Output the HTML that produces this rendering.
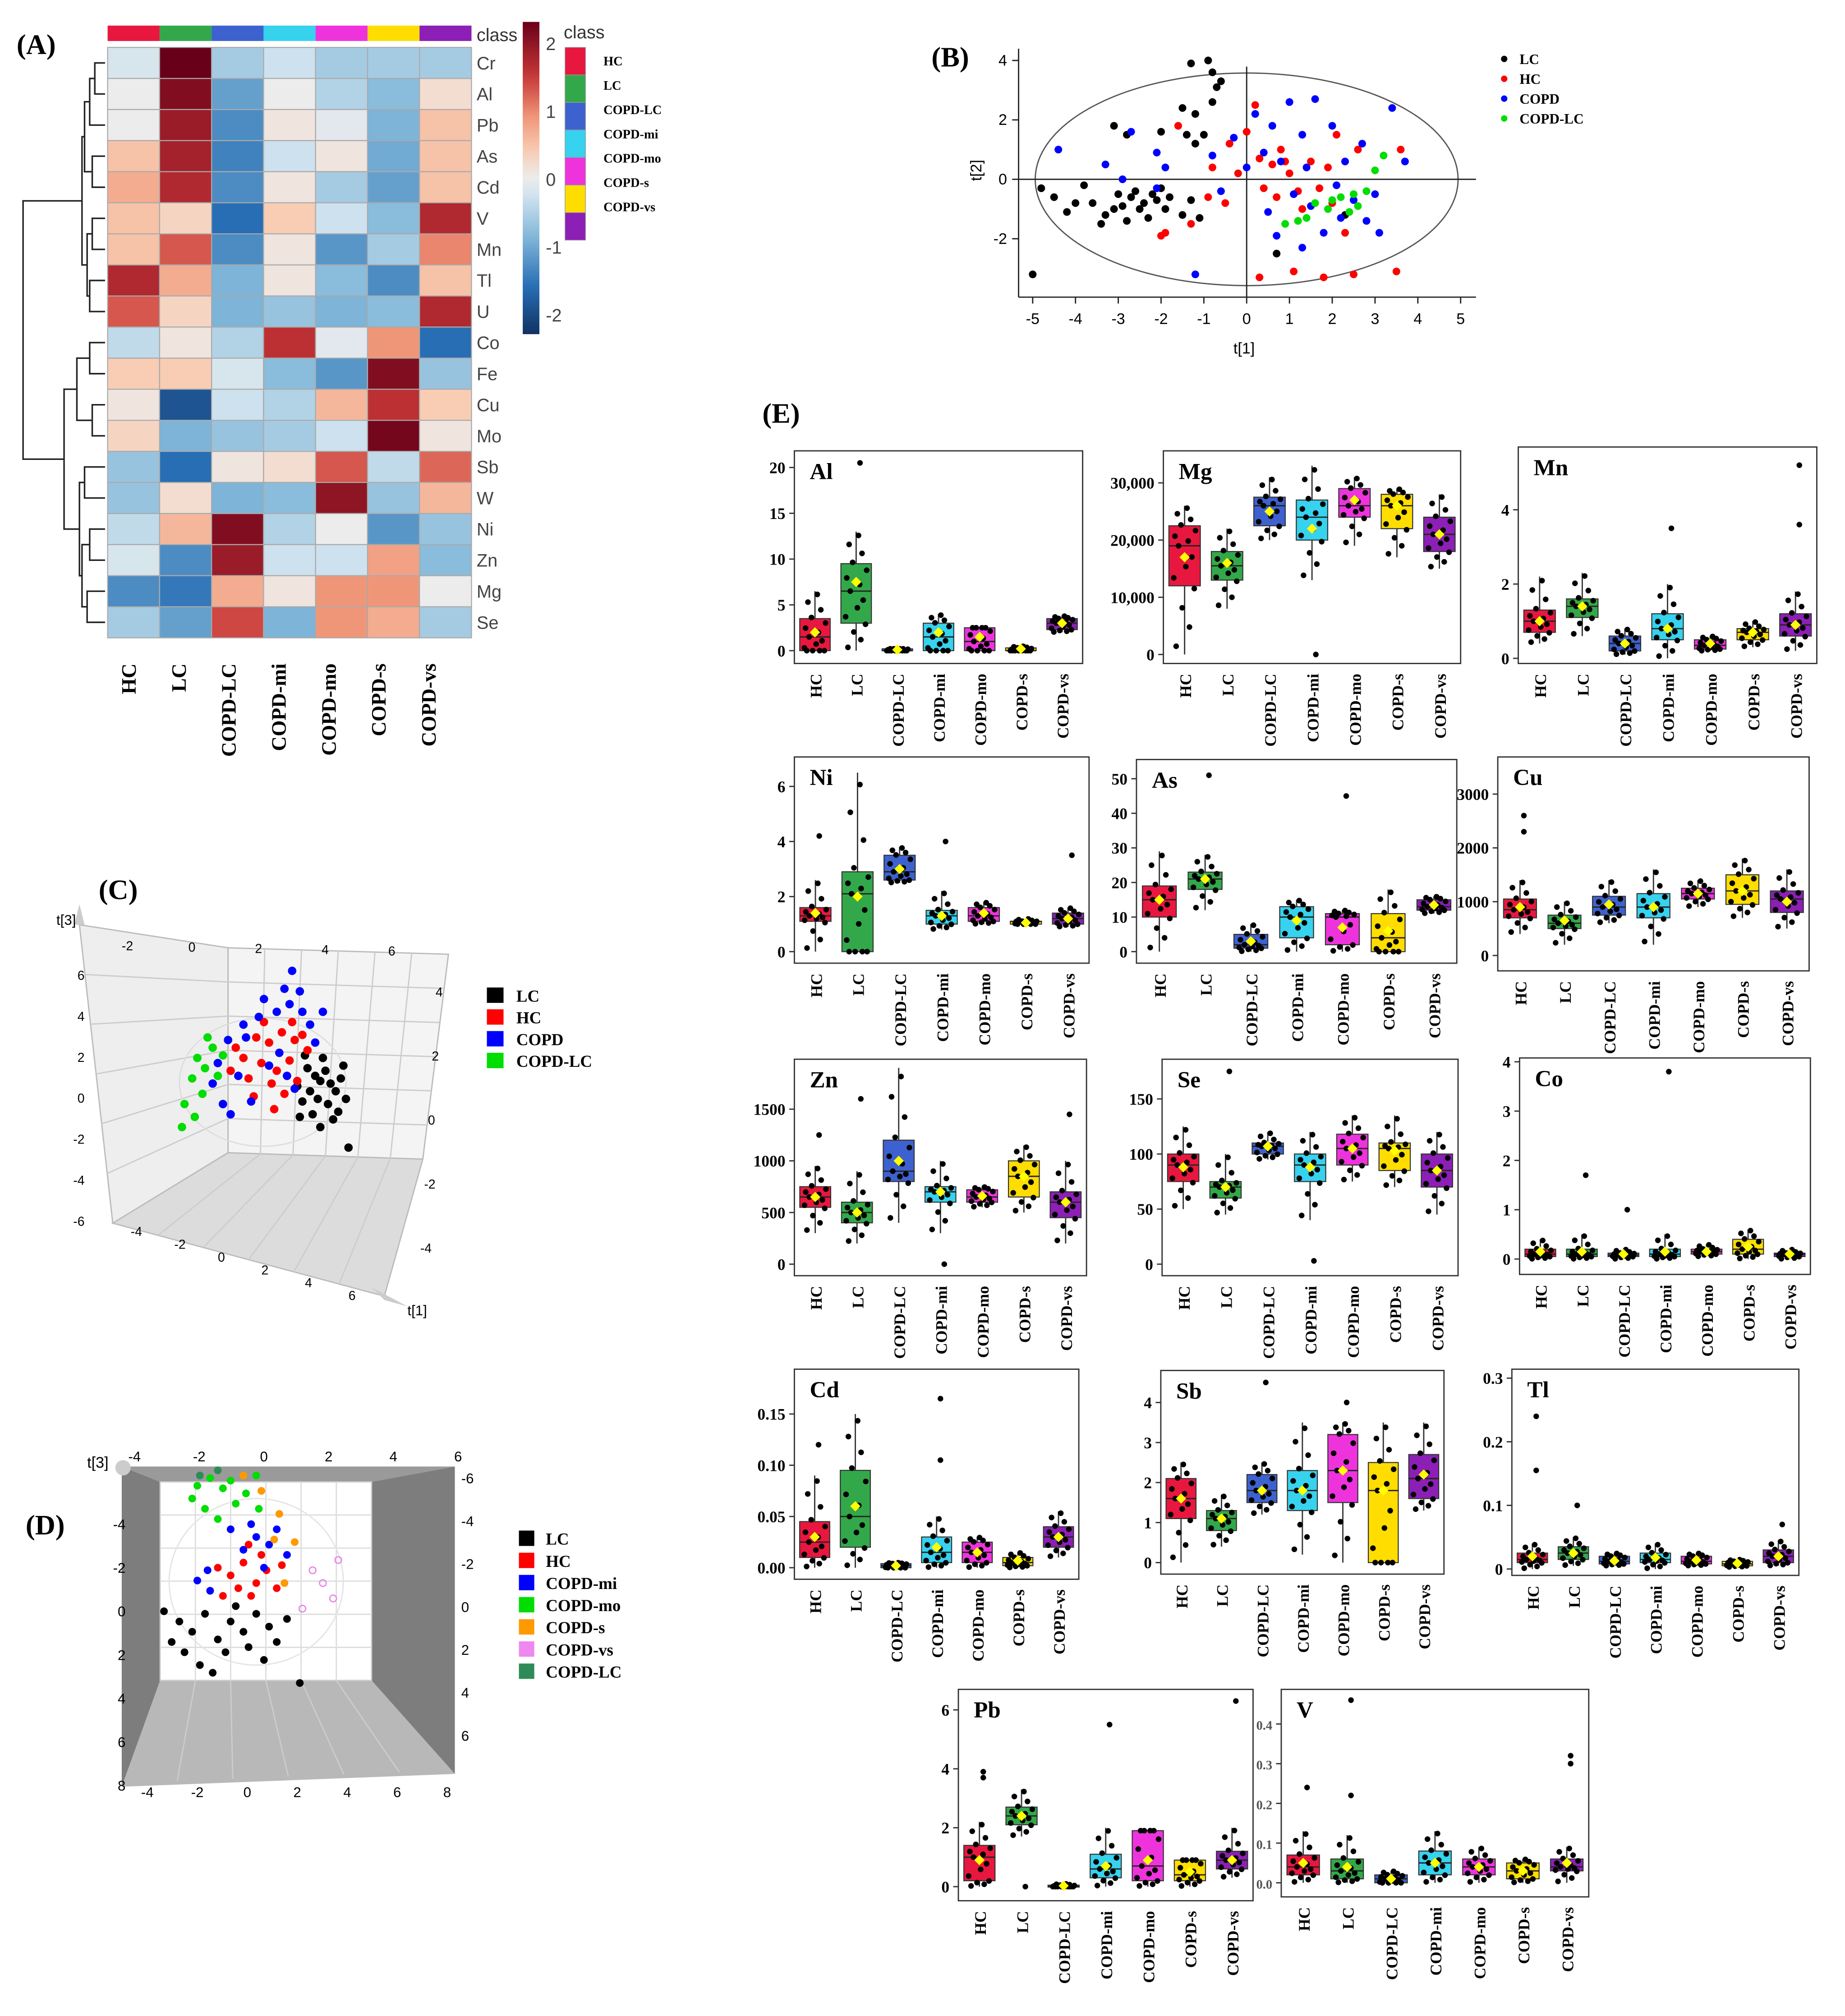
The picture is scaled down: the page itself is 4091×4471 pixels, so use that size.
<!DOCTYPE html>
<html><head><meta charset="utf-8"><title>Metals figure</title>
<style>
html,body{margin:0;padding:0;background:#fff;}
svg{display:block;}
</style></head>
<body>
<svg id="fig" xmlns="http://www.w3.org/2000/svg" width="4091" height="4471" viewBox="0 0 1440 1574" preserveAspectRatio="none">
<rect x="0" y="0" width="1440" height="1574" fill="#fff"/>
</svg>
<script>
const NS='http://www.w3.org/2000/svg';
const svg=document.getElementById('fig');
function mk(tag,attrs,parent,name){
  const e=document.createElementNS(NS,tag);
  for(const k in attrs) e.setAttribute(k,attrs[k]);
  
  
  (parent||svg).appendChild(e);
  return e;
}
function txt(x,y,s,attrs,name,parent){
  const t=mk('text',Object.assign({x:x,y:y},attrs||{}),parent,name);
  t.textContent=s; return t;
}
const SERIF='"Liberation Serif", serif';
const SANS='"Liberation Sans", sans-serif';
const GROUPS=['HC','LC','COPD-LC','COPD-mi','COPD-mo','COPD-s','COPD-vs'];
const GCOL=['#e8173f','#33a84a','#3d62cf','#36d2ee','#ee33dd','#ffdd00','#8c1fb5'];

/* ================= (A) HEATMAP ================= */
const HM_ROWS=['Cr','Al','Pb','As','Cd','V','Mn','Tl','U','Co','Fe','Cu','Mo','Sb','W','Ni','Zn','Mg','Se'];
const HM_COLS=['HC','LC','COPD-LC','COPD-mi','COPD-mo','COPD-s','COPD-vs'];
const HM_VALUES=[
[-0.2,2.3,-0.6,-0.3,-0.6,-0.6,-0.6],
[0,2.1,-1.1,0,-0.5,-0.8,0.2],
[0,1.9,-1.3,0.1,-0.1,-0.9,0.5],
[0.5,1.8,-1.4,-0.3,0.1,-1,0.5],
[0.7,1.7,-1.3,0.1,-0.6,-1.1,0.5],
[0.5,0.3,-1.6,0.4,-0.3,-0.8,1.7],
[0.5,1.3,-1.3,0.1,-1.2,-0.6,1.0],
[1.7,0.7,-0.9,0.1,-0.8,-1.3,0.5],
[1.3,0.3,-0.9,-0.7,-0.9,-0.8,1.7],
[-0.4,0.1,-0.5,1.6,-0.1,0.9,-1.6],
[0.4,0.4,-0.2,-0.8,-1.2,2.1,-0.7],
[0.1,-1.9,-0.3,-0.5,0.6,1.6,0.4],
[0.3,-0.9,-0.7,-0.6,-0.3,2.2,0.1],
[-0.7,-1.6,0.1,0.2,1.3,-0.4,1.2],
[-0.7,0.2,-0.9,-0.8,2.0,-0.7,0.6],
[-0.4,0.6,2.1,-0.5,0,-1.2,-0.7],
[-0.2,-1.3,1.9,-0.3,-0.3,0.8,-0.8],
[-1.3,-1.5,0.7,0.1,0.9,0.9,0],
[-0.6,-1.1,1.4,-0.9,0.9,0.7,-0.6]];
const CB_TICKS=[2,1,0,-1,-2];

const STOPS=[[-2.3,[16,50,100]],[-1.6,[40,110,180]],[-0.9,[125,180,215]],[-0.3,[205,225,238]],[0,[236,236,236]],[0.4,[248,205,180]],[0.9,[240,150,120]],[1.5,[200,55,55]],[2.3,[105,0,25]]];
function hcol(v){
  if(v<=STOPS[0][0]) return 'rgb('+STOPS[0][1]+')';
  for(let i=1;i<STOPS.length;i++){
    if(v<=STOPS[i][0]){const a=STOPS[i-1],b=STOPS[i];const t=(v-a[0])/(b[0]-a[0]);
      return 'rgb('+a[1].map((c,k)=>Math.round(c+(b[1][k]-c)*t)).join(',')+')';}
  }
  return 'rgb('+STOPS[STOPS.length-1][1]+')';
}
(function(){
  const g=mk('g',{},svg,'heatmap-panel');
  txt(13,42,'(A)',{'font-family':SERIF,'font-weight':'bold','font-size':22},'panel-label-a',g);
  const x0=84,x1=368,y0=37,y1=498;
  const cw=(x1-x0)/HM_COLS.length, rh=(y1-y0)/HM_ROWS.length;
  HM_COLS.forEach((c,i)=>{
    mk('rect',{x:x0+i*cw,y:20,width:cw,height:12,fill:GCOL[i]},g,'class-bar-'+c);
  });
  txt(372,32,'class',{'font-family':SANS,'font-size':14,fill:'#333'},'class-bar-label',g);
  HM_VALUES.forEach((row,r)=>{
    row.forEach((v,c)=>{
      mk('rect',{x:x0+c*cw,y:y0+r*rh,width:cw,height:rh,fill:hcol(v),stroke:'#aaa','stroke-width':0.8},g,'heatmap-cell');
    });
    txt(372,y0+r*rh+rh/2+5,HM_ROWS[r],{'font-family':SANS,'font-size':14,fill:'#444'},'row-label-'+HM_ROWS[r],g);
  });
  HM_COLS.forEach((c,i)=>{
    const x=106+i*39;
    txt(x,518,c,{'font-family':SERIF,'font-weight':'bold','font-size':16,'text-anchor':'end',transform:'rotate(-90 '+x+' 518)'},'col-label-'+c,g);
  });
  // dendrogram
  const yc=i=>y0+rh*(i+0.5);
  const tree=[18,
    [64,[66,[70,[74,0,1],2],[72,3,4]],[68,[72,5,6],[70,7,8]]],
    [50,[60,[64,[70,9,10],[72,11,12]]],[62,[66,13,14],[64,[70,15,16],[68,17,18]]]]];
  tree[2]=[50,[60,[70,9,10],[72,11,12]],[62,[66,13,14],[64,[70,15,16],[68,17,18]]]];
  function dn(n){
    if(typeof n==='number') return {x:82,y:yc(n)};
    const a=dn(n[1]),b=dn(n[2]),x=n[0];
    mk('path',{d:'M'+a.x+' '+a.y+'H'+x+'V'+b.y+'H'+b.x,fill:'none',stroke:'#222','stroke-width':1.2},g,'dendrogram-branch');
    return {x:x,y:(a.y+b.y)/2};
  }
  dn(tree);
  // colorbar
  const cbY=v=>139-53*v;
  const grad=mk('linearGradient',{id:'cbg',x1:0,y1:0,x2:0,y2:1},mk('defs',{},g,'defs'),'colorbar-gradient');
  for(let k=0;k<=20;k++){const v=2.3-k*(4.6/20);
    mk('stop',{offset:(k/20),'stop-color':hcol(v)},grad,'gradient-stop');}
  mk('rect',{x:408,y:cbY(2.3),width:13,height:cbY(-2.3)-cbY(2.3),fill:'url(#cbg)'},g,'colorbar');
  CB_TICKS.forEach(v=>txt(426,cbY(v)+6,String(v),{'font-family':SANS,'font-size':14,fill:'#444'},'colorbar-tick',g));
  // class legend
  txt(440,30,'class',{'font-family':SANS,'font-size':14,fill:'#333'},'class-legend-title',g);
  GROUPS.forEach((c,i)=>{
    mk('rect',{x:441,y:37+i*21.5,width:16,height:21.5,fill:GCOL[i],stroke:'#999','stroke-width':0.5},g,'class-legend-swatch');
    txt(471,51+i*19,c,{'font-family':SERIF,'font-weight':'bold','font-size':10},'class-legend-label',g);
  });
})();

/* ================= (B) PCA SCATTER ================= */
const B_XTICKS=[-5,-4,-3,-2,-1,0,1,2,3,4,5];
const B_YTICKS=[4,2,0,-2];
const B_LC_X=[-5,-4.8,-4.5,-4.2,-4,-3.8,-3.6,-3.4,-3.3,-3.1,-3,-2.9,-2.8,-2.7,-2.6,-2.5,-2.4,-2.3,-2.2,-2.1,-2,-1.9,-1.8,-1.5,-1.3,-1.1,-1.5,-1.3,-0.9,-0.8,-0.7,-0.6,-1.2,-1,-1.2,-1.4,-2.8,-2,-3.1,-0.8,0.7,2.3];
const B_LC_Y=[-3.2,-0.3,-0.6,-1.1,-0.8,-0.2,-0.8,-1.5,-1.2,-1,-0.5,-0.9,-1.4,-0.6,-0.4,-1,-0.8,-1.3,-0.5,-0.7,-0.3,-1,-0.6,-1.2,-0.7,-1.3,2.4,3.9,4,3.6,3.1,3.3,2.2,1.5,1.2,1.5,1.5,1.6,1.8,2.6,-2.5,-1.2];
const B_HC_X=[-1.9,-2,-1.3,-0.9,-0.8,-0.5,-0.2,0,0.2,0.3,0.4,0.6,0.7,0.8,1,1.2,1.3,1.5,1.7,1.9,2,2.3,1.1,1.8,0.3,2.5,3.5,3.6,0.9,-0.4,2.6,2.1,-1.6];
const B_HC_Y=[-1.8,-1.9,-1.5,-0.6,0.4,-0.8,0.2,1.6,2.5,0.7,-0.3,0.5,-0.6,1,0.2,-0.4,-1,0.6,-0.3,0.4,-0.8,-1.8,-3.1,-3.3,-3.3,-3.2,-3.1,1,0.6,1.2,1,1.5,1.8];
const B_COPD_X=[-4.4,-3.3,-2.9,-2.7,-2.1,-1.9,-2.1,-1.2,-0.8,-0.6,-0.3,0,0.2,0.5,0.6,0.8,1,1.1,1.3,1.4,1.6,1.8,2,2.1,2.3,2.5,2.7,2.8,3,3.1,3.4,3.7,1.3,0.7,2.2,1.5,0.4];
const B_COPD_Y=[1,0.5,0,1.6,0.9,0.4,-0.3,-3.2,0.8,-0.4,1.4,0.4,2.2,-1.1,1.8,0.6,2.6,-0.5,1.5,0.4,2.7,-1.8,1.8,-0.2,0.6,-0.7,1.2,-1.4,-0.5,-1.8,2.4,0.6,-2.3,-1.9,-1.3,-0.9,0.9];
const B_COPDLC_X=[0.9,1.4,1.6,1.9,2.2,2.5,2.8,2.6,3,3.2,2.4,1.2,2];
const B_COPDLC_Y=[-1.5,-1.3,-0.8,-1,-0.6,-0.5,-0.4,-0.9,0.3,0.8,-1.1,-1.4,-0.7];
(function(){
  const g=mk('g',{},svg,'pca-scatter-panel');
  txt(727,52,'(B)',{'font-family':SERIF,'font-weight':'bold','font-size':22},'panel-label-b',g);
  const sx=v=>973+33.4*v, sy=v=>140-23.2*v;
  mk('ellipse',{cx:sx(0),cy:sy(0),rx:165,ry:83,fill:'none',stroke:'#555','stroke-width':1},g,'confidence-ellipse');
  mk('line',{x1:795,y1:sy(0),x2:1152,y2:sy(0),stroke:'#222','stroke-width':1},g,'zero-line-h');
  mk('line',{x1:sx(0),y1:52,x2:sx(0),y2:232,stroke:'#222','stroke-width':1},g,'zero-line-v');
  mk('line',{x1:795,y1:38,x2:795,y2:232,stroke:'#222','stroke-width':1},g,'y-axis');
  mk('line',{x1:795,y1:232,x2:1152,y2:232,stroke:'#222','stroke-width':1},g,'x-axis');
  B_XTICKS.forEach(v=>{mk('line',{x1:sx(v),y1:232,x2:sx(v),y2:237,stroke:'#222'},g,'x-tick');
    txt(sx(v),253,String(v),{'font-family':SANS,'font-size':12,'text-anchor':'middle'},'x-tick-label',g);});
  B_YTICKS.forEach(v=>{mk('line',{x1:790,y1:sy(v),x2:795,y2:sy(v),stroke:'#222'},g,'y-tick');
    txt(786,sy(v)+4,String(v),{'font-family':SANS,'font-size':12,'text-anchor':'end'},'y-tick-label',g);});
  txt(971,276,'t[1]',{'font-family':SANS,'font-size':12,'text-anchor':'middle'},'x-axis-title',g);
  txt(766,133,'t[2]',{'font-family':SANS,'font-size':12,'text-anchor':'middle',transform:'rotate(-90 766 133)'},'y-axis-title',g);
  const sets=[[B_LC_X,B_LC_Y,'#000','lc'],[B_HC_X,B_HC_Y,'#f00','hc'],[B_COPD_X,B_COPD_Y,'#00f','copd'],[B_COPDLC_X,B_COPDLC_Y,'#0d0','copd-lc']];
  sets.forEach(s=>s[0].forEach((x,i)=>mk('circle',{cx:sx(x),cy:sy(s[1][i]),r:3,fill:s[2]},g,'point-'+s[3])));
  const L=[['LC','#000'],['HC','#f00'],['COPD','#00f'],['COPD-LC','#0d0']];
  L.forEach((l,i)=>{mk('circle',{cx:1174,cy:46+i*15.5,r:2.5,fill:l[1]},g,'legend-marker');
    txt(1186,50+i*15.5,l[0],{'font-family':SERIF,'font-weight':'bold','font-size':11},'legend-entry',g);});
})();

/* ================= (C) 3D PCA ================= */
const C_LC_U=[1.5,1.8,2,2.2,2.4,1.6,1.9,2.3,1.3,2.6,2.8,1.1,2.1,2.5,1.7,3,2.7,1.4,2.9,1.2,3.1,2];
const C_LC_V=[0.8,0.5,0.3,0.7,0.2,-0.1,-0.4,-0.6,-0.5,-0.1,0.4,0.1,1.2,-1.2,-1,-0.4,-0.9,1.3,0.9,-1.1,-2.3,-1.5];
const C_HC_U=[-0.5,0,0.5,1,-1,-0.3,0.3,0.8,1.3,-0.8,0.1,0.6,-1.3,0.9,-0.2,1.5,-1.5,0.2,-0.6,1.1];
const C_HC_V=[2,1.8,2.2,1.9,1.2,1,0.7,1.1,2.1,0.4,0.2,-0.2,1.6,2.6,2.6,1.5,0.7,-0.8,-0.3,0.3];
const C_COPD_U=[-1,-0.4,0.3,0.8,1.3,1.6,-1.6,-1.2,-2,-0.7,0,0.7,1.2,0.9,0.6,-2.2,-1.8,1.8,-0.2,0.4,1,-0.9,-1.5,2.1];
const C_COPD_V=[2.5,2.8,3,3.3,3,2.5,1.9,0.5,1,-0.5,0.9,0.5,3.8,4.6,3.9,0.2,-0.6,1.8,3.5,1.4,0,2,-1,3];
const C_COPDLC_U=[-2.8,-2.5,-3,-2.6,-3.3,-2.2,-2.9,-3.4,-2,-1.8,-2.4];
const C_COPDLC_V=[1.2,0.8,0.4,-0.2,-0.6,1.6,-1.1,-1.5,0.5,1.3,2];
(function(){
  const g=mk('g',{},svg,'pca-3d-panel-c');
  txt(77,702,'(C)',{'font-family':SERIF,'font-weight':'bold','font-size':22},'panel-label-c',g);
  mk('polygon',{points:'62,722 178,740 178,900 88,955',fill:'#eeeeee',stroke:'#bbb'},g,'left-wall');
  mk('polygon',{points:'178,740 350,745 330,905 178,900',fill:'#f4f4f4',stroke:'#bbb'},g,'back-wall');
  mk('polygon',{points:'88,955 178,900 330,905 300,1012',fill:'#dcdcdc',stroke:'#bbb'},g,'floor');
  for(let k=1;k<6;k++){
    const t=k/6;
    mk('line',{x1:178+172*t,y1:740+5*t,x2:178+152*t,y2:900+5*t,stroke:'#ccc'},g,'grid-line');
    mk('line',{x1:178,y1:740+160*t,x2:350-20*t,y2:745+160*t,stroke:'#ccc'},g,'grid-line');
    mk('line',{x1:62+26*t,y1:722+233*t,x2:178,y2:740+160*t,stroke:'#ccc'},g,'grid-line');
    mk('line',{x1:88+212*t,y1:955+57*t,x2:178+152*t,y2:900+5*t,stroke:'#ccc'},g,'grid-line');
  }
  mk('polygon',{points:'58,722 66,722 62,706',fill:'#ccc'},g,'axis-arrow');
  mk('polygon',{points:'290,1005 318,1020 300,1015',fill:'#ccc'},g,'axis-arrow');
  ['-2','0','2','4','6'].forEach((s,i)=>txt(95+52*i,742+i,s,{'font-family':SANS,'font-size':10},'top-tick-label',g));
  ['6','4','2','0','-2','-4','-6'].forEach((s,i)=>txt(66,765+32*i,s,{'font-family':SANS,'font-size':10,'text-anchor':'end'},'left-tick-label',g));
  ['-4','-2','0','2','4','6'].forEach((s,i)=>txt(102+34*i,965+10*i,s,{'font-family':SANS,'font-size':10},'bottom-tick-label',g));
  ['4','2','0','-2','-4'].forEach((s,i)=>txt(340-3*i,778+50*i,s,{'font-family':SANS,'font-size':10},'right-tick-label',g));
  txt(44,722,'t[3]',{'font-family':SANS,'font-size':11},'z-axis-title',g);
  txt(318,1027,'t[1]',{'font-family':SANS,'font-size':11},'x-axis-title',g);
  mk('ellipse',{cx:205,cy:845,rx:65,ry:50,fill:'none',stroke:'#ddd'},g,'confidence-ellipsoid');
  const su=u=>210+20*u, sv=v=>850-20*v;
  const sets=[[C_LC_U,C_LC_V,'#000','lc'],[C_HC_U,C_HC_V,'#f00','hc'],[C_COPD_U,C_COPD_V,'#00f','copd'],[C_COPDLC_U,C_COPDLC_V,'#0d0','copd-lc']];
  sets.forEach(s=>s[0].forEach((u,i)=>mk('circle',{cx:su(u),cy:sv(s[1][i]),r:3.3,fill:s[2]},g,'point-'+s[3])));
  const L=[['LC','#000'],['HC','#f00'],['COPD','#00f'],['COPD-LC','#0d0']];
  L.forEach((l,i)=>{mk('rect',{x:380,y:771+i*17,width:13,height:12,fill:l[1]},g,'legend-swatch');
    txt(403,782+i*17,l[0],{'font-family':SERIF,'font-weight':'bold','font-size':13},'legend-entry',g);});
})();

/* ================= (D) 3D PCA ================= */
const D_LC_U=[-3,-2.5,-2,-1.5,-1,-0.5,0,0.5,-2.8,-2.2,-1.2,-0.3,0.8,1.2,-3.3,-1.7,1.7,-0.8,0.3,-3.6];
const D_LC_V=[-1.8,-2.2,-1.5,-2.5,-1.8,-2.2,-1.5,-2,-3,-3.5,-3,-2.8,-2.6,-1.7,-2.6,-3.8,-4.2,-1.2,-3.3,-1.4];
const D_HC_U=[-1,-0.5,0,0.4,-0.2,-1.3,0.8,-0.7,0.2,-1.5,1,-0.3];
const D_HC_V=[0,0.5,-0.3,0.2,-0.8,-0.8,-0.5,-0.5,0.8,0.3,0.4,1.2];
const D_MI_U=[-0.5,0,0.5,-1,0.3,-1.8,-1.9,0.8,-0.2,1.2,-2.3];
const D_MI_V=[1,1.5,1.2,1.8,0.3,-0.6,0.2,1.8,2,0.8,-0.2];
const D_MO_U=[-2.3,-1.8,-1.3,-0.8,-0.4,-2,-1.5,0.1,-2.5,-1,0];
const D_MO_V=[3.5,3.8,3.4,2.8,3.2,2.6,2.2,2.6,3,3.7,3.9];
const D_S_U=[-0.5,0.2,0.9,1.5,0.7,1.1];
const D_S_V=[3.9,3.3,2.4,1.3,1.4,-0.3];
const D_VS_U=[2.6,3.2,1.8,3,2.2];
const D_VS_V=[-0.3,0.6,-1.3,-0.9,0.2];
const D_LC2_U=[-2.2,-1.5];
const D_LC2_V=[3.9,4.1];
(function(){
  const g=mk('g',{},svg,'pca-3d-panel-d');
  txt(20,1198,'(D)',{'font-family':SERIF,'font-weight':'bold','font-size':22},'panel-label-d',g);
  mk('polygon',{points:'95,1145 355,1145 290,1157 125,1157',fill:'#9a9a9a'},g,'ceiling');
  mk('polygon',{points:'95,1145 125,1157 125,1312 95,1395',fill:'#7d7d7d'},g,'left-wall');
  mk('polygon',{points:'355,1145 355,1385 290,1312 290,1157',fill:'#7d7d7d'},g,'right-wall');
  mk('polygon',{points:'125,1312 290,1312 355,1385 95,1395',fill:'#b8b8b8'},g,'floor');
  mk('rect',{x:125,y:1157,width:165,height:155,fill:'#fff',stroke:'#ccc'},g,'back-wall');
  for(let k=1;k<6;k++){const t=k/6;
    mk('line',{x1:125+165*t,y1:1157,x2:125+165*t,y2:1312,stroke:'#ddd'},g,'grid-line');
    mk('line',{x1:125,y1:1157+155*t,x2:290,y2:1157+155*t,stroke:'#ddd'},g,'grid-line');
    mk('line',{x1:125+165*t,y1:1312,x2:95+260*t,y2:1392-10*t,stroke:'#ccc'},g,'floor-grid-line');}
  mk('circle',{cx:96,cy:1146,r:6,fill:'#ccc'},g,'axis-knob');
  ['-4','-2','0','2','4','6'].forEach((s,i)=>txt(105+50.5*i,1141,s,{'font-family':SANS,'font-size':11,'text-anchor':'middle'},'top-tick-label',g));
  ['-4','-2','0','2','4','6','8'].forEach((s,i)=>txt(98,1194+34*i,s,{'font-family':SANS,'font-size':11,'text-anchor':'end'},'left-tick-label',g));
  ['-6','-4','-2','0','2','4','6'].forEach((s,i)=>txt(360,1158+33.5*i,s,{'font-family':SANS,'font-size':11},'right-tick-label',g));
  ['-4','-2','0','2','4','6','8'].forEach((s,i)=>txt(115+39*i,1403,s,{'font-family':SANS,'font-size':11,'text-anchor':'middle'},'bottom-tick-label',g));
  txt(68,1146,'t[3]',{'font-family':SANS,'font-size':12},'z-axis-title',g);
  mk('ellipse',{cx:200,cy:1235,rx:68,ry:65,fill:'none',stroke:'#e4e4e4'},g,'confidence-ellipsoid');
  const su=u=>200+20*u, sv=v=>1230-20*v;
  const sets=[[D_LC_U,D_LC_V,'#000','lc'],[D_HC_U,D_HC_V,'#f00','hc'],[D_MI_U,D_MI_V,'#00f','copd-mi'],[D_MO_U,D_MO_V,'#0d0','copd-mo'],[D_S_U,D_S_V,'#f90','copd-s'],[D_LC2_U,D_LC2_V,'#2e8b57','copd-lc']];
  sets.forEach(s=>s[0].forEach((u,i)=>mk('circle',{cx:su(u),cy:sv(s[1][i]),r:3,fill:s[2]},g,'point-'+s[3])));
  D_VS_U.forEach((u,i)=>mk('circle',{cx:su(u),cy:sv(D_VS_V[i]),r:2.6,fill:'none',stroke:'#e888e8'},g,'point-copd-vs'));
  const L=[['LC','#000'],['HC','#f00'],['COPD-mi','#00f'],['COPD-mo','#0d0'],['COPD-s','#f90'],['COPD-vs','#ee88ee'],['COPD-LC','#2e8b57']];
  L.forEach((l,i)=>{mk('rect',{x:405,y:1195+i*17.3,width:12,height:12,fill:l[1]},g,'legend-swatch');
    txt(426,1206+i*17.3,l[0],{'font-family':SERIF,'font-weight':'bold','font-size':13},'legend-entry',g);});
})();

/* ================= (E) BOXPLOTS ================= */
// stats per group: [q1, median, q3, whiskerLow, whiskerHigh, mean]
const AL_STATS=[[0,1.5,3.5,0,6.5,2],[3,6.5,9.5,0,13,7.5],[0,0,0.2,0,0.2,0.1],[0,1.5,3,0,4,2],[0,1,2.5,0,2.5,1.5],[0,0,0.3,0,0.5,0.2],[2.3,3,3.5,2,3.8,3]];
const AL_OUT=[[1,20.5]];
const MG_STATS=[[12000,19000,22500,0,26000,17000],[13000,15500,18000,8000,22000,16000],[22500,26000,27500,20000,31000,25000],[20000,24000,27000,13000,33000,22000],[24000,26000,29000,19000,31000,27000],[22000,26000,28000,17000,29000,26000],[18000,21000,24000,15000,28000,21000]];
const MG_OUT=[[3,0]];
const MN_STATS=[[0.7,1,1.3,0.4,2.2,1],[1.1,1.4,1.6,0.6,2.3,1.4],[0.2,0.4,0.6,0.1,0.8,0.4],[0.5,0.8,1.2,0,2,0.8],[0.25,0.35,0.5,0.2,0.6,0.4],[0.5,0.7,0.8,0.3,1.0,0.7],[0.6,0.9,1.2,0.2,1.8,0.9]];
const MN_OUT=[[6,5.2],[6,3.6],[3,3.5]];
const NI_STATS=[[1.1,1.3,1.6,0,2.6,1.4],[0,2.1,2.9,0,6.5,2],[2.6,2.9,3.5,2.5,3.8,3],[1,1.3,1.5,0.8,2.2,1.3],[1.1,1.3,1.6,1,1.8,1.4],[1,1.1,1.1,1,1.2,1.05],[1,1.2,1.4,0.9,1.6,1.2]];
const NI_OUT=[[0,4.2],[3,4],[6,3.5]];
const AS_STATS=[[10,15,19,0,29,15],[18,21,23,12,28,21],[1,2,5,0,8,3],[4,10,13,0,15,9],[2,10,11,0,12,7],[0,4,11,0,18,6],[12,13,15,11,16,13.5]];
const AS_OUT=[[1,51],[4,45]];
const CU_STATS=[[700,850,1050,400,1400,900],[500,600,750,200,1000,650],[750,900,1100,600,1400,950],[700,900,1150,200,1600,900],[1050,1150,1250,900,1400,1150],[950,1200,1500,700,1800,1200],[800,1050,1200,500,1600,1000]];
const CU_OUT=[[0,2600],[0,2300]];
const ZN_STATS=[[550,650,750,300,950,650],[400,500,600,200,900,500],[800,900,1200,400,1900,1000],[600,700,750,300,1000,700],[600,650,720,550,750,660],[650,850,1000,500,1150,850],[450,600,700,200,1000,600]];
const ZN_OUT=[[1,1600],[6,1450],[0,1250],[3,0]];
const SE_STATS=[[75,90,100,50,125,88],[60,70,75,45,100,70],[100,107,110,95,120,107],[75,90,100,40,120,88],[90,105,118,75,135,105],[85,105,110,70,135,103],[70,85,100,45,120,85]];
const SE_OUT=[[1,175],[3,3]];
const CO_STATS=[[0.05,0.1,0.2,0,0.4,0.15],[0.05,0.1,0.2,0,0.5,0.15],[0.05,0.08,0.12,0,0.2,0.1],[0.05,0.1,0.2,0,0.5,0.15],[0.1,0.15,0.2,0.05,0.3,0.15],[0.1,0.2,0.4,0,0.6,0.25],[0.05,0.1,0.12,0,0.2,0.1]];
const CO_OUT=[[3,3.8],[1,1.7],[2,1]];
const CD_STATS=[[0.01,0.025,0.045,0,0.09,0.03],[0.02,0.05,0.095,0,0.15,0.06],[0,0.002,0.004,0,0.005,0.002],[0.005,0.015,0.03,0,0.05,0.02],[0.005,0.015,0.025,0,0.03,0.015],[0.002,0.005,0.01,0,0.015,0.007],[0.02,0.03,0.04,0.01,0.055,0.03]];
const CD_OUT=[[3,0.165],[3,0.105],[0,0.12]];
const SB_STATS=[[1.1,1.6,2.1,0,2.5,1.6],[0.8,1.1,1.3,0.4,1.7,1.1],[1.5,1.8,2.2,1.2,2.5,1.8],[1.3,1.8,2.3,0.2,3.5,1.8],[1.5,2.3,3.2,0,3.5,2.3],[0,1.8,2.5,0,3.5,1.8],[1.6,2.1,2.7,1.3,3.5,2.2]];
const SB_OUT=[[2,4.5],[4,4]];
const TL_STATS=[[0.01,0.015,0.025,0,0.04,0.02],[0.015,0.025,0.035,0.005,0.05,0.025],[0.008,0.012,0.02,0.005,0.025,0.013],[0.01,0.015,0.025,0,0.04,0.018],[0.008,0.012,0.02,0.005,0.025,0.014],[0.005,0.008,0.012,0.003,0.015,0.009],[0.01,0.02,0.03,0.005,0.045,0.02]];
const TL_OUT=[[0,0.24],[0,0.155],[1,0.1],[6,0.07]];
const PB_STATS=[[0.2,1,1.4,0,2.2,0.9],[2.1,2.4,2.7,1.7,3.3,2.4],[0,0,0.05,0,0.1,0.03],[0.3,0.6,1.1,0,2,0.7],[0.2,0.7,1.9,0,1.9,0.9],[0.2,0.4,0.9,0,0.9,0.5],[0.6,0.9,1.2,0.3,2,0.9]];
const PB_OUT=[[0,3.9],[0,3.7],[3,5.5],[6,6.3],[1,0]];
const V_STATS=[[0.02,0.04,0.07,0,0.13,0.05],[0.01,0.03,0.06,0,0.12,0.04],[0,0.01,0.02,0,0.03,0.01],[0.02,0.05,0.08,0,0.13,0.05],[0.02,0.04,0.06,0,0.09,0.04],[0.01,0.03,0.05,0,0.06,0.03],[0.03,0.04,0.06,0,0.09,0.05]];
const V_OUT=[[1,0.46],[6,0.32],[6,0.3],[0,0.24],[1,0.22]];
const AL_TICKS=[0,5,10,15,20], MG_TICKS=[0,10000,20000,30000], MN_TICKS=[0,2,4], NI_TICKS=[0,2,4,6], AS_TICKS=[0,10,20,30,40,50], CU_TICKS=[0,1000,2000,3000], ZN_TICKS=[0,500,1000,1500], SE_TICKS=[0,50,100,150], CO_TICKS=[0,1,2,3,4], CD_TICKS=[0,0.05,0.10,0.15], SB_TICKS=[0,1,2,3,4], TL_TICKS=[0,0.1,0.2,0.3], PB_TICKS=[0,2,4,6], V_TICKS=[0,0.1,0.2,0.3,0.4];
const MG_TICK_LABELS=['0','10,000','20,000','30,000'];
const CD_TICK_LABELS=['0.00','0.05','0.10','0.15'];
const V_TICK_LABELS=['0.0','0.1','0.2','0.3','0.4'];

// layout only: [name, frame x0,y0,x1,y1, pixel-y of first tick, pixel-y of last tick]
const PANELS=[
 ['Al',AL_STATS,AL_OUT,AL_TICKS,null,[620,352,845,518,508,365]],
 ['Mg',MG_STATS,MG_OUT,MG_TICKS,MG_TICK_LABELS,[908,352,1140,518,511,377]],
 ['Mn',MN_STATS,MN_OUT,MN_TICKS,null,[1185,349,1418,518,514,398]],
 ['Ni',NI_STATS,NI_OUT,NI_TICKS,null,[620,591,850,752,743,614]],
 ['As',AS_STATS,AS_OUT,AS_TICKS,null,[887,593,1137,752,743,608]],
 ['Cu',CU_STATS,CU_OUT,CU_TICKS,null,[1169,591,1412,758,746,620]],
 ['Zn',ZN_STATS,ZN_OUT,ZN_TICKS,null,[620,827,848,996,987,866]],
 ['Se',SE_STATS,SE_OUT,SE_TICKS,null,[907,827,1138,996,987,858]],
 ['Co',CO_STATS,CO_OUT,CO_TICKS,null,[1186,826,1413,995,983,829]],
 ['Cd',CD_STATS,CD_OUT,CD_TICKS,CD_TICK_LABELS,[620,1069,842,1233,1224,1104]],
 ['Sb',SB_STATS,SB_OUT,SB_TICKS,null,[906,1070,1127,1229,1220,1095]],
 ['Tl',TL_STATS,TL_OUT,TL_TICKS,null,[1180,1069,1404,1230,1225,1076]],
 ['Pb',PB_STATS,PB_OUT,PB_TICKS,null,[748,1319,978,1484,1473,1335]],
 ['V',V_STATS,V_OUT,V_TICKS,V_TICK_LABELS,[1000,1319,1240,1481,1470,1346]]
];
const JIT_Q=[0.03,0.1,0.17,0.24,0.3,0.37,0.43,0.5,0.56,0.62,0.69,0.76,0.83,0.9,0.97];
const JIT_X=[-7,4,-2,8,-9,1,6,-5,3,-8,9,-3,5,-6,2];
function qval(s,f){const k=[s[3],s[0],s[1],s[2],s[4]];const p=f*4;const i=Math.min(3,Math.floor(p));return k[i]+(k[i+1]-k[i])*(p-i);}
txt(595,330,'(E)',{'font-family':SERIF,'font-weight':'bold','font-size':22},'panel-label-e');
PANELS.forEach(P=>{
  const [name,stats,outl,ticks,tl,geo]=P;
  const [x0,y0,x1,y1,pa,pb]=geo;
  const g=mk('g',{},svg,'boxplot-'+name.toLowerCase());
  const v0=ticks[0],v1=ticks[ticks.length-1];
  const sy=v=>pa+(v-v0)*(pb-pa)/(v1-v0);
  const step=(x1-x0)/7, sx=i=>x0+step*(i+0.5), bw=step*0.74;
  mk('rect',{x:x0,y:y0,width:x1-x0,height:y1-y0,fill:'#fff',stroke:'#333','stroke-width':1},g,'panel-frame');
  ticks.forEach((t,i)=>{
    mk('line',{x1:x0-4,y1:sy(t),x2:x0,y2:sy(t),stroke:'#333'},g,'y-tick');
    txt(x0-7,sy(t)+4.5,tl?tl[i]:String(t),{'font-family':SERIF,'font-weight':'bold','font-size':name==='V'?10:12.5,'text-anchor':'end',fill:name==='V'?'#555':'#000'},'y-tick-label',g);
  });
  txt(x0+12,y0+22,name,{'font-family':SERIF,'font-weight':'bold','font-size':18},'panel-title',g);
  stats.forEach((s,i)=>{
    const cx=sx(i);
    mk('line',{x1:cx,y1:sy(s[3]),x2:cx,y2:sy(s[4]),stroke:'#333','stroke-width':1},g,'whisker');
    const top=sy(s[2]),bot=sy(s[0]);
    mk('rect',{x:cx-bw/2,y:top,width:bw,height:Math.max(1.5,bot-top),fill:GCOL[i],stroke:'#333','stroke-width':0.8},g,'box-'+GROUPS[i]);
    mk('line',{x1:cx-bw/2,y1:sy(s[1]),x2:cx+bw/2,y2:sy(s[1]),stroke:'#222','stroke-width':1},g,'median-line');
    JIT_Q.forEach((q,k)=>mk('circle',{cx:cx+JIT_X[k]*bw/26,cy:sy(qval(s,q)),r:2.2,fill:'#000'},g,'observation-point'));
    const m=sy(s[5]);
    mk('polygon',{points:(cx)+','+(m-4)+' '+(cx+4)+','+m+' '+cx+','+(m+4)+' '+(cx-4)+','+m,fill:'#ffff00'},g,'mean-marker');
    const ly=y1+8;
    txt(cx+5,ly,GROUPS[i],{'font-family':SERIF,'font-weight':'bold','font-size':12.5,'text-anchor':'end',transform:'rotate(-90 '+(cx+5)+' '+ly+')'},'x-label-'+GROUPS[i],g);
  });
  outl.forEach(o=>mk('circle',{cx:sx(o[0])+3,cy:sy(o[1]),r:2.2,fill:'#000'},g,'outlier-point'));
});
</script>
</body></html>
